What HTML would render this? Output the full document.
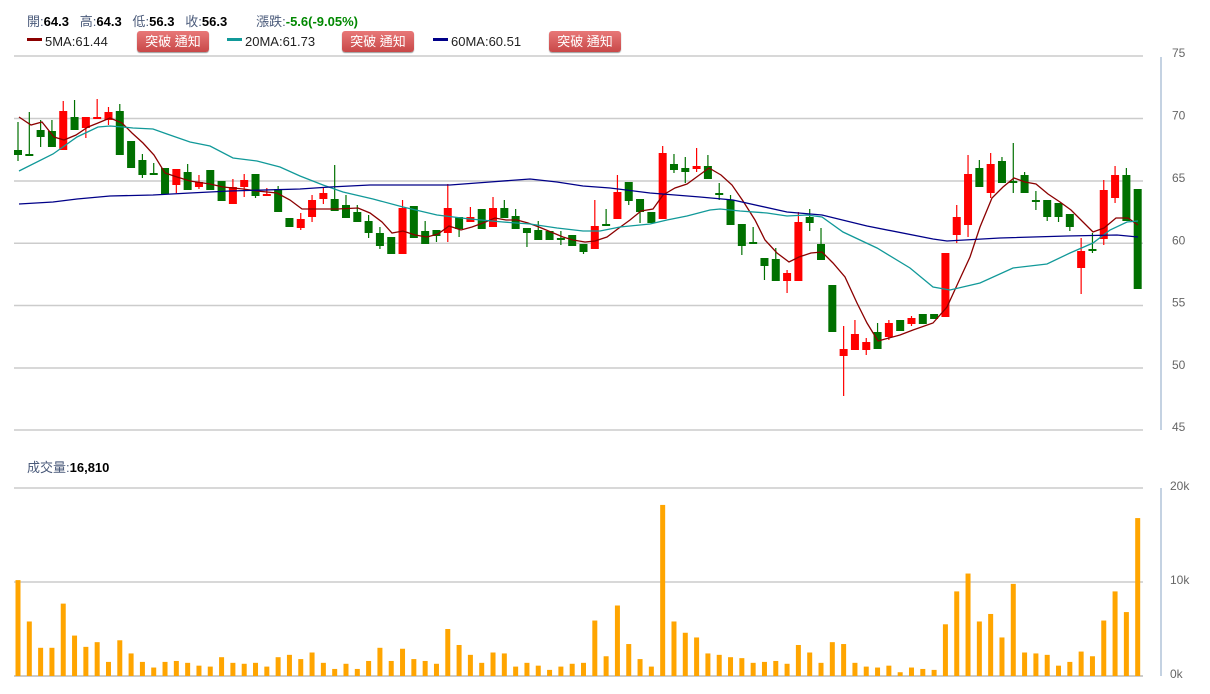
<!DOCTYPE html>
<html><head><meta charset="utf-8">
<style>
html,body{margin:0;padding:0;background:#fff;width:1210px;height:694px;overflow:hidden;font-family:"Liberation Sans","Noto Sans CJK TC",sans-serif;}
.hd{position:absolute;font-size:13px;color:#4a5a7a;white-space:nowrap}
.hd b{color:#000}
.btn{position:absolute;width:72px;height:21px;border-radius:3px;background:linear-gradient(#e87878,#c84848);color:#fff;font-size:13px;text-align:center;line-height:21px;box-shadow:0 1px 1px #999}
.sw{display:inline-block;width:15px;height:3px;vertical-align:middle;margin-right:3px;position:relative;top:-3px}
</style></head><body>
<div class="hd" style="left:27px;top:11px">開:<b>64.3</b>&nbsp;&nbsp; 高:<b>64.3</b>&nbsp;&nbsp; 低:<b>56.3</b>&nbsp;&nbsp; 收:<b>56.3</b>&nbsp;&nbsp;&nbsp;&nbsp;&nbsp;&nbsp;&nbsp; 漲跌:<b style="color:#080">-5.6(-9.05%)</b></div>
<div class="hd" style="left:27px;top:34px;color:#222"><span class="sw" style="background:#8b0000"></span>5MA:61.44</div>
<div class="btn" style="left:137px;top:31px">突破 通知</div>
<div class="hd" style="left:227px;top:34px;color:#222"><span class="sw" style="background:#199"></span>20MA:61.73</div>
<div class="btn" style="left:342px;top:31px">突破 通知</div>
<div class="hd" style="left:433px;top:34px;color:#222"><span class="sw" style="background:#008"></span>60MA:60.51</div>
<div class="btn" style="left:549px;top:31px">突破 通知</div>
<div class="hd" style="left:27px;top:457px">成交量:<b>16,810</b></div>
<svg id="s" width="1210" height="694" style="position:absolute;left:0;top:0" xmlns="http://www.w3.org/2000/svg"></svg>
<script>
var s=document.getElementById('s'),h='';
function L(x1,y1,x2,y2,c,w){h+='<line x1="'+x1+'" y1="'+y1+'" x2="'+x2+'" y2="'+y2+'" stroke="'+c+'" stroke-width="'+(w||1)+'"/>';}
var pg=[[75,56],[70,118.5],[65,181],[60,243.3],[55,305.5],[50,368],[45,430]];
pg.forEach(function(g){L(14,g[1],1143,g[1],'#ccc',1.5);h+='<text x="1172" y="'+(g[1]+1)+'" font-size="12" fill="#666" font-family="Liberation Sans">'+g[0]+'</text>';});
[[20,'20k',488],[10,'10k',582],[0,'0k',676]].forEach(function(g){L(14,g[2],1143,g[2],g[0]?'#ccc':'#bbb',1.5);h+='<text x="1170" y="'+(g[2]+2)+'" font-size="12" fill="#666" font-family="Liberation Sans">'+g[1]+'</text>';});
L(1161,57,1161,430,'#c4d2e2',2);L(1161,488,1161,676,'#c4d2e2',2);
var vol=[10.2,5.8,3,3,7.7,4.3,3.1,3.6,1.5,3.8,2.4,1.5,0.9,1.5,1.6,1.4,1.1,1,2,1.4,1.3,1.4,1,2,2.25,1.8,2.5,1.4,0.75,1.3,0.75,1.6,3,1.6,2.9,1.8,1.6,1.3,5,3.3,2.25,1.4,2.5,2.4,1,1.4,1.1,0.65,1,1.3,1.4,5.9,2.1,7.5,3.4,1.8,1,18.2,5.8,4.6,4.1,2.4,2.25,2,1.9,1.4,1.5,1.6,1.3,3.3,2.5,1.4,3.6,3.4,1.4,1,0.9,1.1,0.4,0.9,0.75,0.65,5.5,9,10.9,5.8,6.6,4.1,9.8,2.5,2.4,2.25,1.1,1.5,2.6,2.1,5.9,9,6.8,16.8];
function X(i){return 18+i*11.31;}
vol.forEach(function(v,i){var hh=v*9.4;h+='<rect x="'+(X(i)-2.5)+'" y="'+(676-hh)+'" width="5" height="'+hh+'" fill="#ffa500"/>';});
var C=[['g',150,155,122,161],['g',154,156,112,156],['g',130,137,120,147],['g',131,147,120,147],['r',111,150,101,150],['g',117,130,100,130],['r',117,128,117,138],['r',117,118,99,118],['r',112,120,107,125],['g',111,155,104,155],
['g',141,168,141,168],['g',160,175,154,178],['g',173,175,163,175],['g',168,194,168,194],['r',169,185,169,193],['g',172,190,164,190],['r',182,187,175,189],['g',170,190,170,190],['g',181,201,181,201],['r',187,204,179,204],
['r',180,187,174,197],['g',174,196,174,198],['r',194,196,188,196],['g',189,212,186,212],['g',218,227,218,227],['r',219,228,213,230],['r',200,217,195,222],['r',193,199,187,204],['g',199,211,165,211],['g',205,218,195,218],
['g',212,222,205,222],['g',221,233,215,238],['g',233,246,227,249],['g',237,254,237,254],['r',208,254,200,254],['g',206,238,206,238],['g',231,244,221,244],['g',230,236,230,242],['r',208,233,184,242],['g',217,229,217,237],
['r',217,222,207,222],['g',209,229,209,229],['r',208,227,197,227],['g',208,218,200,218],['g',216,229,209,229],['g',228,233,228,247],['g',230,240,221,240],['g',231,240,231,240],['g',238,239,231,245],['g',235,246,235,246],
['g',244,252,244,254],['r',226,249,200,249],['g',224,225,209,225],['r',192,219,175,219],['g',182,201,182,205],['g',199,212,199,223],['g',212,223,212,223],['r',153,219,146,219],['g',164,170,154,173],['g',168,172,157,183],
['r',166,169,148,172],['g',166,179,155,179],['g',193,194,183,200],['g',200,225,195,225],['g',224,246,224,255],['g',242,244,227,244],['g',258,266,258,280],['g',259,281,248,281],['r',273,281,270,293],['r',222,281,212,281],
['g',217,223,209,231],['g',244,260,228,260],['g',285,332,285,332],['r',349,356,326,396],['r',334,350,320,350],['r',342,350,338,355],['g',332,349,323,349],['r',323,337,320,340],['g',320,331,320,331],['r',318,324,316,326],
['g',314,324,314,324],['g',314,319,314,319],['r',253,317,253,317],['r',217,235,205,243],['r',174,225,155,237],['g',168,187,160,187],['r',164,193,153,198],['g',161,183,157,183],['g',181,183,143,193],['g',175,193,172,193],
['g',200,201,191,210],['g',200,217,200,221],['g',203,217,203,222],['g',214,227,214,231],['r',251,268,238,294],['g',249,251,233,253],['r',190,239,180,245],['r',175,198,166,203],['g',175,221,168,221],['g',189,289,189,289]];
C.forEach(function(c,i){var x=X(i),col=c[0]=='r'?'#ff0000':'#007000';L(x,c[3],x,c[4],col,1.2);h+='<rect x="'+(x-4)+'" y="'+c[1]+'" width="8" height="'+Math.max(2,c[2]-c[1])+'" fill="'+col+'"/>';});
function P(pts,col){h+='<polyline fill="none" stroke="'+col+'" stroke-width="1.3" points="'+pts.map(function(p){return p.join(',')}).join(' ')+'"/>';}
P([[19,117],[31,125],[42,122],[54,137],[64,140],[76,135],[88,127],[98,123],[110,118],[122,123],[132,133],[143,143],[154,155],[165,173],[177,177],[190,181],[210,184],[223,187],[243,189],[257,191],[277,193],[290,200],[302,209],[313,209],[337,209],[358,208],[370,213],[382,222],[392,233],[403,231],[415,235],[427,237],[438,234],[449,226],[461,230],[472,227],[483,223],[495,218],[506,220],[517,220],[528,223],[539,227],[551,232],[563,237],[573,240],[585,242],[595,241],[607,237],[619,228],[630,220],[641,211],[653,209],[663,195],[675,188],[687,184],[698,176],[709,168],[721,175],[732,185],[743,201],[755,220],[765,240],[777,253],[789,262],[799,257],[811,253],[822,252],[833,263],[845,277],[857,303],[867,323],[878,341],[900,335],[913,330],[933,323],[947,307],[958,283],[970,257],[980,227],[992,198],[1003,187],[1014,178],[1025,182],[1036,184],[1048,194],[1060,202],[1071,210],[1083,222],[1093,232],[1104,228],[1116,218],[1128,218],[1138,225]],'#8b0000');
P([[19,171],[53,154],[77,137],[98,127],[110,126],[123,127],[133,128],[153,129],[167,134],[190,142],[210,146],[233,158],[257,161],[280,167],[300,176],[323,185],[343,192],[373,199],[403,207],[437,215],[470,219],[503,222],[530,224],[557,228],[583,231],[600,231],[620,227],[650,224],[667,220],[687,216],[710,210],[720,209],[740,211],[767,213],[787,216],[807,215],[822,217],[843,232],[877,248],[910,268],[933,287],[950,290],[980,283],[1013,268],[1047,264],[1070,253],[1093,243],[1110,230],[1127,222],[1138,221]],'#119999');
P([[19,204],[53,202],[77,199],[110,196],[153,195],[190,193],[230,191],[300,189],[330,187],[370,185],[410,185],[450,185],[490,182],[530,179],[557,182],[583,186],[610,188],[650,193],[700,197],[733,200],[787,212],[822,215],[867,226],[933,239],[947,241],[1000,238],[1067,236],[1117,235],[1138,237]],'#000088');
s.innerHTML=h;
</script>
</body></html>
